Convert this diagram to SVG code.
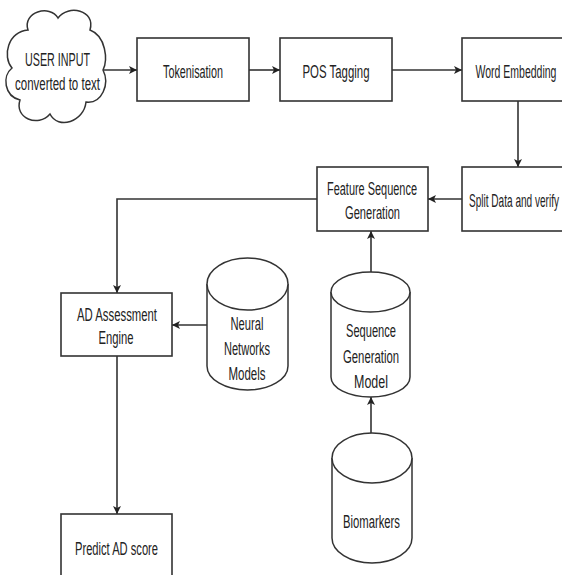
<svg xmlns="http://www.w3.org/2000/svg" width="562" height="575" viewBox="0 0 562 575">
<style>
.box{fill:#fff;stroke:#333;stroke-width:1.6}
.cyl{fill:#fff;stroke:#333;stroke-width:1.5}
.t{font-family:"Liberation Sans",Arial,sans-serif;font-size:17.5px;fill:#222;text-anchor:middle}
.c{fill:none;stroke:#333;stroke-width:1.6}
</style>
<defs>
<marker id="a" viewBox="0 0 10 10" refX="10" refY="5" markerWidth="8" markerHeight="8" markerUnits="userSpaceOnUse" orient="auto">
<path d="M0,0 L10,5 L0,10 L2.5,5 Z" fill="#222"/>
</marker>
</defs>
<rect width="562" height="575" fill="#fff"/>
<g id="connectors">
<path class="c" d="M103,70 L137,70" marker-end="url(#a)"/>
<path class="c" d="M249,70 L280,70" marker-end="url(#a)"/>
<path class="c" d="M392,70 L462,70" marker-end="url(#a)"/>
<path class="c" d="M518,101 L518,167" marker-end="url(#a)"/>
<path class="c" d="M462,199 L428,199" marker-end="url(#a)"/>
<path class="c" d="M317,199 L117,199 L117,293" marker-end="url(#a)"/>
<path class="c" d="M207,325 L172,325" marker-end="url(#a)"/>
<path class="c" d="M371,272 L371,231" marker-end="url(#a)"/>
<path class="c" d="M371,433 L371,397" marker-end="url(#a)"/>
<path class="c" d="M117,356 L117,514" marker-end="url(#a)"/>
</g>
<g id="user-input">
<path class="cyl" d="M28,30 C22,12 50,4 58,18 C68,4 96,10 90,30 C106,36 108,60 103,70 C110,84 102,104 86,102 C84,122 58,130 50,114 C38,128 14,118 20,100 C4,96 2,76 12,68 C2,56 8,32 28,30 Z"/>
<text class="t" x="57.5" y="66" textLength="65" lengthAdjust="spacingAndGlyphs">USER INPUT</text>
<text class="t" x="57.5" y="90" textLength="85" lengthAdjust="spacingAndGlyphs">converted to text</text>
</g>
<g id="tokenisation">
<rect class="box" x="137" y="38" width="112" height="63"/>
<text class="t" x="193" y="78" textLength="60" lengthAdjust="spacingAndGlyphs">Tokenisation</text>
</g>
<g id="pos-tagging">
<rect class="box" x="280" y="38" width="112" height="63"/>
<text class="t" x="336" y="78" textLength="67" lengthAdjust="spacingAndGlyphs">POS Tagging</text>
</g>
<g id="word-embedding">
<rect class="box" x="462" y="38" width="112" height="63"/>
<text class="t" transform="translate(516,78) scale(0.6,1)">Word Embedding</text>
</g>
<g id="split-data">
<rect class="box" x="462" y="167" width="112" height="64"/>
<text class="t" transform="translate(514,207) scale(0.575,1)">Split Data and verify</text>
</g>
<g id="feature-sequence">
<rect class="box" x="317" y="167" width="111" height="64"/>
<text class="t" x="372" y="195" textLength="90" lengthAdjust="spacingAndGlyphs">Feature Sequence</text>
<text class="t" x="372.5" y="219" textLength="55" lengthAdjust="spacingAndGlyphs">Generation</text>
</g>
<g id="ad-engine">
<rect class="box" x="61" y="293" width="111" height="63"/>
<text class="t" x="117" y="321" textLength="80" lengthAdjust="spacingAndGlyphs">AD Assessment</text>
<text class="t" x="116" y="344" textLength="35" lengthAdjust="spacingAndGlyphs">Engine</text>
</g>
<g id="neural-networks">
<path class="cyl" d="M207,284 L207,366 A40.5,24 0 0 0 288,366 L288,284"/>
<ellipse class="cyl" cx="247.5" cy="284" rx="40.5" ry="26"/>
<text class="t" x="247" y="330" textLength="33" lengthAdjust="spacingAndGlyphs">Neural</text>
<text class="t" x="247" y="355" textLength="46" lengthAdjust="spacingAndGlyphs">Networks</text>
<text class="t" x="247" y="380" textLength="37" lengthAdjust="spacingAndGlyphs">Models</text>
</g>
<g id="sequence-model">
<path class="cyl" d="M331,292 L331,377 A39.5,20 0 0 0 410,377 L410,292"/>
<ellipse class="cyl" cx="370.5" cy="292" rx="39.5" ry="20"/>
<text class="t" x="371" y="337" textLength="50" lengthAdjust="spacingAndGlyphs">Sequence</text>
<text class="t" x="371" y="363" textLength="56" lengthAdjust="spacingAndGlyphs">Generation</text>
<text class="t" x="371" y="388" textLength="34" lengthAdjust="spacingAndGlyphs">Model</text>
</g>
<g id="biomarkers">
<path class="cyl" d="M332,458 L332,538 A40,25 0 0 0 412,538 L412,458"/>
<ellipse class="cyl" cx="372" cy="458" rx="40" ry="25"/>
<text class="t" x="371.5" y="528" textLength="57" lengthAdjust="spacingAndGlyphs">Biomarkers</text>
</g>
<g id="predict">
<rect class="box" x="61" y="514" width="111" height="64"/>
<text class="t" x="116.5" y="555" textLength="83" lengthAdjust="spacingAndGlyphs">Predict AD score</text>
</g>
</svg>
